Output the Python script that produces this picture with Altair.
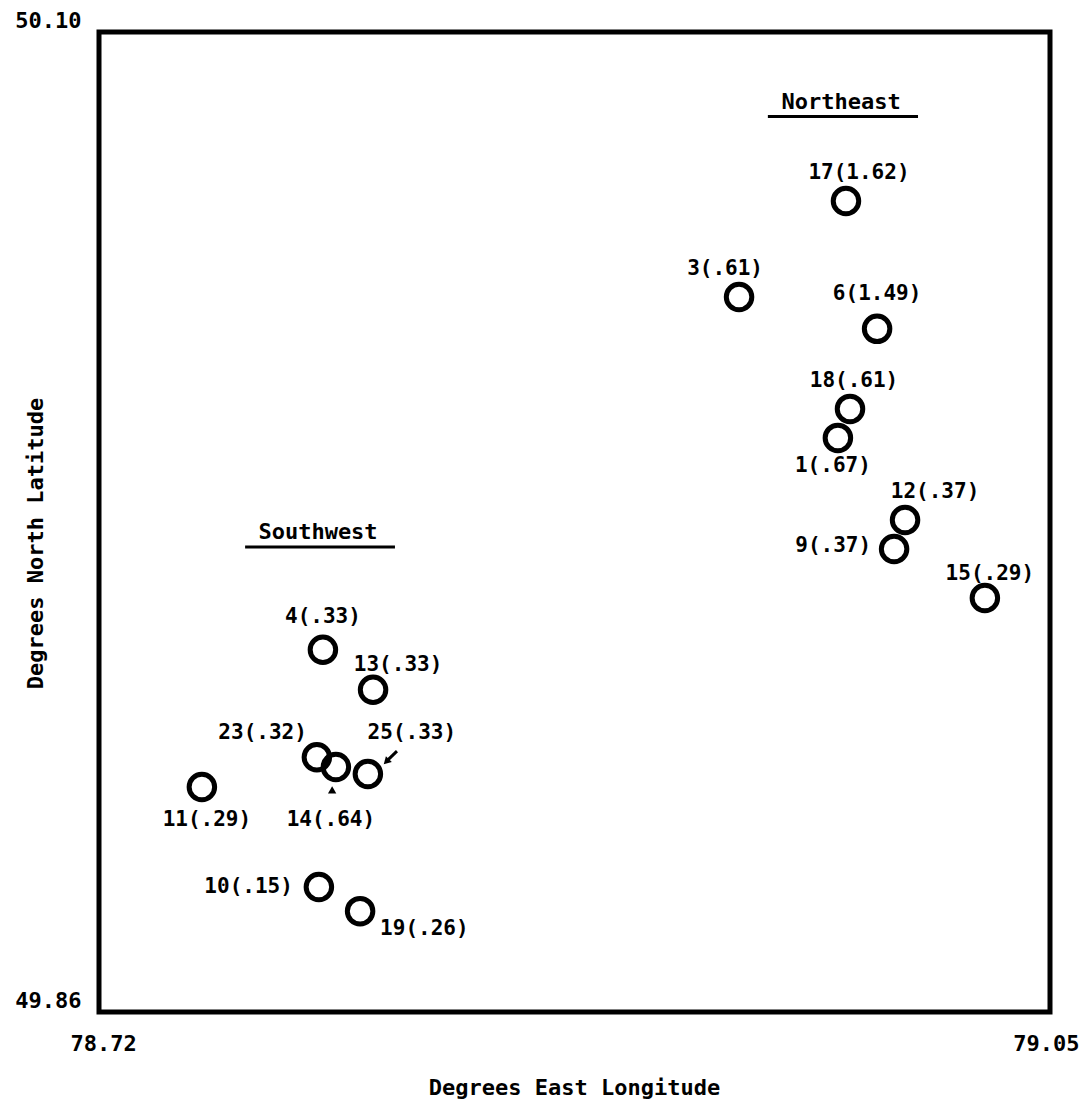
import altair as alt
import pandas as pd

FONT = "DejaVu Sans Mono"

# ---- data ----
station = [17, 3, 6, 18, 1, 12, 9, 15, 4, 13, 23, 14, 25, 11, 10, 19]
value = ["1.62", ".61", "1.49", ".61", ".67", ".37", ".37", ".29",
         ".33", ".33", ".32", ".64", ".33", ".29", ".15", ".26"]
lon = [78.9792, 78.9421, 78.9900, 78.9806, 78.9764, 78.9997, 78.9959, 79.0274,
       78.7977, 78.8151, 78.7956, 78.8022, 78.8133, 78.7557, 78.7963, 78.8106]
lat = [50.0586, 50.0351, 50.0273, 50.0077, 50.0006, 49.9805, 49.9734, 49.9614,
       49.9487, 49.9389, 49.9224, 49.9200, 49.9183, 49.9151, 49.8906, 49.8847]

region_name = ["Northeast", "Southwest"]
region_lon = [78.9775, 78.7960]
region_lat = [50.0829, 49.9776]
underline_lon = [78.9521, 78.7707]
underline_lon2 = [79.0042, 78.8227]
underline_lat = [50.0793, 49.9739]

x_ticks = [78.72, 79.05]
y_ticks = [49.86, 50.10]

# label placement (pixel offsets from the circle, alignment)
label_style = {
    17: (13, -28, "center"), 3: (-14, -28, "center"), 6: (0, -35, "center"),
    18: (4, -28, "center"), 1: (-5, 28, "center"), 12: (30, -28, "center"),
    9: (-23, -3, "right"), 15: (5, -24, "center"), 4: (0, -33, "center"),
    13: (25, -25, "center"), 23: (-10, -24, "right"), 14: (-5, 53, "center"),
    25: (44, -41, "center"), 11: (5, 33, "center"), 10: (-26, 0, "right"),
    19: (20, 18, "left"),
}

df = pd.DataFrame({"station": station, "value": value, "lon": lon, "lat": lat})
df["label"] = [f"{s}({v})" for s, v in zip(station, value)]

reg = pd.DataFrame({"name": region_name, "lon": region_lon, "lat": region_lat,
                    "ulon": underline_lon, "ulon2": underline_lon2, "ulat": underline_lat})

arrow_shaft = pd.DataFrame({"lon": [78.8234], "lat": [49.9239], "lon2": [78.8199], "lat2": [49.9215]})
arrow_head25 = pd.DataFrame({"lon": [78.8197], "lat": [49.9213]})
arrow_head14 = pd.DataFrame({"lon": [78.8009], "lat": [49.9144]})

xs = alt.Scale(domain=[78.72, 79.05], nice=False, zero=False)
ys = alt.Scale(domain=[49.86, 50.10], nice=False, zero=False)

x_axis = alt.Axis(values=x_ticks, format=".2f", title="Degrees East Longitude",
                  labelFlush=True, labelFlushOffset=29, ticks=False, domain=False, grid=False,
                  labelFont=FONT, labelFontSize=22, labelFontWeight="bold",
                  labelBaseline="top", labelPadding=21, labelColor="black",
                  titleFont=FONT, titleFontSize=22, titleFontWeight="bold",
                  titleColor="black", titleBaseline="alphabetic", titleY=82, titleX=475)
y_axis = alt.Axis(values=y_ticks, format=".2f", title="Degrees North Latitude",
                  labelFlush=False, ticks=False, domain=False, grid=False,
                  labelFont=FONT, labelFontSize=22, labelFontWeight="bold",
                  labelBaseline="middle", labelPadding=18, labelOffset=-12,
                  labelColor="black",
                  titleFont=FONT, titleFontSize=22, titleFontWeight="bold",
                  titleColor="black", titleBaseline="middle", titleX=-64, titleY=511,
                  titleAngle=270, titleAlign="center")

circles = alt.Chart(df).mark_point(
    shape="circle", filled=False, size=650, strokeWidth=5, color="black", opacity=1
).encode(
    x=alt.X("lon:Q", scale=xs, axis=x_axis),
    y=alt.Y("lat:Q", scale=ys, axis=y_axis),
)

layers = [circles]
for s in station:
    dx, dy, al = label_style[s]
    layers.append(
        alt.Chart(df).transform_filter(alt.datum.station == s).mark_text(
            font=FONT, fontSize=21, fontWeight="bold", color="black",
            dx=dx, dy=dy, align=al, baseline="middle"
        ).encode(
            x=alt.X("lon:Q", scale=xs), y=alt.Y("lat:Q", scale=ys), text="label:N"
        )
    )

region_text = alt.Chart(reg).mark_text(
    font=FONT, fontSize=22, fontWeight="bold", color="black", baseline="middle"
).encode(x=alt.X("lon:Q", scale=xs), y=alt.Y("lat:Q", scale=ys), text="name:N")

region_line = alt.Chart(reg).mark_rule(color="black", strokeWidth=3).encode(
    x=alt.X("ulon:Q", scale=xs), x2="ulon2:Q", y=alt.Y("ulat:Q", scale=ys)
)

shaft = alt.Chart(arrow_shaft).mark_rule(color="black", strokeWidth=3).encode(
    x=alt.X("lon:Q", scale=xs), x2="lon2:Q", y=alt.Y("lat:Q", scale=ys), y2="lat2:Q"
)
head25 = alt.Chart(arrow_head25).mark_point(
    shape="triangle-up", filled=True, size=70, angle=225, color="black", opacity=1
).encode(x=alt.X("lon:Q", scale=xs), y=alt.Y("lat:Q", scale=ys))
head14 = alt.Chart(arrow_head14).mark_point(
    shape="triangle-up", filled=True, size=70, color="black", opacity=1
).encode(x=alt.X("lon:Q", scale=xs), y=alt.Y("lat:Q", scale=ys))

layers += [region_text, region_line, shaft, head25, head14]

chart = alt.layer(*layers).properties(
    width=951, height=980,
    autosize=alt.AutoSizeParams(type="none"),
    padding={"left": 99, "top": 32, "right": 30, "bottom": 92},
    background="white",
).configure_view(stroke="black", strokeWidth=5)

chart.save("out.html", embed_options={"renderer": "svg", "actions": False})
